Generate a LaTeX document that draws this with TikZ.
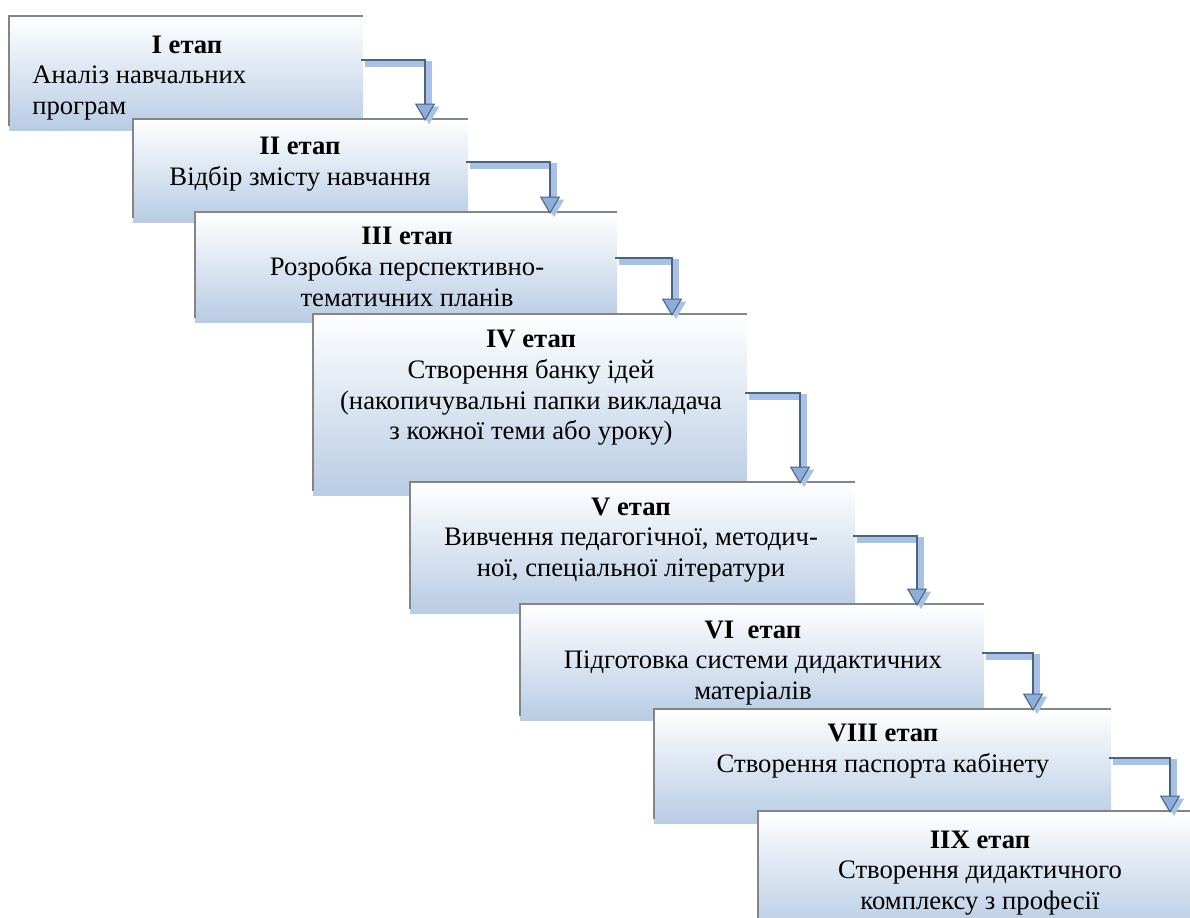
\documentclass[tikz,border=0pt]{standalone}
\usepackage{fontspec}
\setmainfont{Liberation Serif}
\usetikzlibrary{calc,fit,arrows.meta}
\definecolor{boxblue}{HTML}{B8CCE4}
\definecolor{boxedge}{HTML}{858585}
\definecolor{arrdark}{HTML}{4A6387}
\definecolor{arrlight}{HTML}{A9C1E2}
\definecolor{arrfill}{HTML}{8EAEDA}
\begin{document}
\begin{tikzpicture}[x=0.75pt,y=-0.75pt,
  stagebox/.style={inner sep=0pt, outer sep=0pt},
  boxfill/.style={top color=white, bottom color=boxblue},
  boxedgeline/.style={draw=boxedge, line width=2.2pt},
  txt/.style={font=\fontsize{20pt}{23pt}\selectfont, align=center, inner sep=0pt},
  conn/.style={draw=arrdark, line width=2.1pt,
    -{Triangle[width=15pt,length=13pt,fill=arrfill,line width=0.8pt]}},
  connshadow/.style={draw=arrlight, line width=3.8pt,
    -{Triangle[width=15pt,length=13pt,fill=arrlight,line width=0.4pt]}}
]
\useasboundingbox (0,0) rectangle (1190,918);
\clip (0,0) rectangle (1190,918);

% boxes
\node[stagebox, fit={(9,16) (363,130)}] (b1) {};
\shade[boxfill] (b1.south west) rectangle (b1.north east);
\draw[boxedgeline] ($(b1.south west)+(0,-4)$) -- (b1.north west) -- (b1.north east);

\node[stagebox, fit={(133,119) (468,222)}] (b2) {};
\shade[boxfill] (b2.south west) rectangle (b2.north east);
\draw[boxedgeline] ($(b2.south west)+(0,-4)$) -- (b2.north west) -- (b2.north east);

\node[stagebox, fit={(195,212) (617,322)}] (b3) {};
\shade[boxfill] (b3.south west) rectangle (b3.north east);
\draw[boxedgeline] ($(b3.south west)+(0,-4)$) -- (b3.north west) -- (b3.north east);

\node[stagebox, fit={(313,314) (747,495)}] (b4) {};
\shade[boxfill] (b4.south west) rectangle (b4.north east);
\draw[boxedgeline] ($(b4.south west)+(0,-4)$) -- (b4.north west) -- (b4.north east);

\node[stagebox, fit={(410,482) (855,613)}] (b5) {};
\shade[boxfill] (b5.south west) rectangle (b5.north east);
\draw[boxedgeline] ($(b5.south west)+(0,-4)$) -- (b5.north west) -- (b5.north east);

\node[stagebox, fit={(520,604) (984,720)}] (b6) {};
\shade[boxfill] (b6.south west) rectangle (b6.north east);
\draw[boxedgeline] ($(b6.south west)+(0,-4)$) -- (b6.north west) -- (b6.north east);

\node[stagebox, fit={(654,709) (1111,823)}] (b7) {};
\shade[boxfill] (b7.south west) rectangle (b7.north east);
\draw[boxedgeline] ($(b7.south west)+(0,-4)$) -- (b7.north west) -- (b7.north east);

\node[stagebox, fit={(758,811) (1200,932)}] (b8) {};
\shade[boxfill] (b8.south west) rectangle (b8.north east);
\draw[boxedgeline] ($(b8.south west)+(0,-4)$) -- (b8.north west) -- (b8.north east);

% texts
\node[txt] (t1a) at (187,45) {\textbf{I етап}};
\node[txt, anchor=west, align=left] (t1b) at (32,93) {Аналіз навчальних\\програм};
\node[txt] (t2) at (300,164) {\textbf{II етап}\\Відбір змісту навчання};
\node[txt] (t3) at (407,267) {\textbf{III етап}\\Розробка перспективно-\\тематичних планів};
\node[txt] (t4) at (531,388) {\textbf{IV етап}\\Створення банку ідей\\(накопичувальні папки викладача\\з кожної теми або уроку)};
\node[txt] (t5) at (631,540) {\textbf{V етап}\\Вивчення педагогічної, методич-\\ної, спеціальної літератури};
\node[txt] (t6) at (753,663) {\textbf{VI\ \ етап}\\Підготовка системи дидактичних\\матеріалів};
\node[txt] (t7) at (883,751) {\textbf{VIII етап}\\Створення паспорта кабінету};
\node[txt] (t8) at (980,873) {\textbf{IIX етап}\\Створення дидактичного\\комплексу з професії};

% connectors
\foreach \a/\b/\dy/\dx in {b1/b2/44/292, b2/b3/43/355, b3/b4/46/359, b4/b5/79/390, b5/b6/54/397, b6/b7/49/379, b7/b8/49/412}{
  \draw[connshadow] ($(\a.north east)+(2,\dy+4)$) -| ($(\b.north west)+(\dx+4,5)$);
  \draw[conn] ($(\a.north east)+(-2,\dy)$) -| ($(\b.north west)+(\dx,2)$);
}
\end{tikzpicture}
\end{document}
